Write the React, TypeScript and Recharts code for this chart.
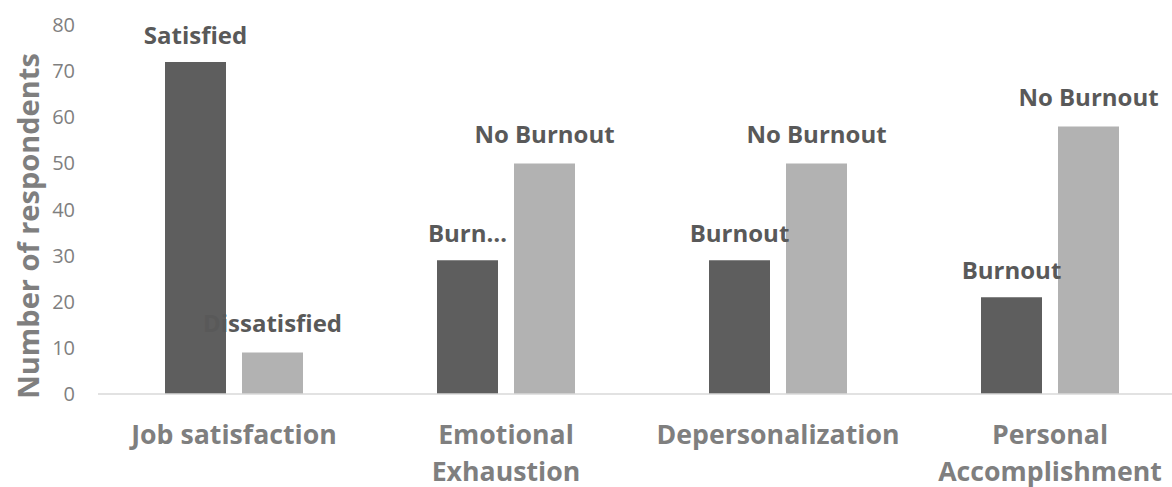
import React from 'react';
import { Bar, BarChart, LabelList, XAxis, YAxis } from 'recharts';

const categories = ['Job satisfaction', 'Emotional\nExhaustion', 'Depersonalization', 'Personal\nAccomplishment'];
const firstValues = [72, 29, 29, 21];
const secondValues = [9, 50, 50, 58];
const firstLabels = ['Satisfied', 'Burn…', 'Burnout', 'Burnout'];
const secondLabels = ['Dissatisfied', 'No Burnout', 'No Burnout', 'No Burnout'];
const yTicks = [0, 10, 20, 30, 40, 50, 60, 70, 80];

const data = categories.map((name, i) => ({
  name,
  first: firstValues[i],
  second: secondValues[i],
  firstLabel: firstLabels[i],
  secondLabel: secondLabels[i],
}));

const FONT = '"Open Sans", sans-serif';

const CategoryTick = (props: any) => {
  const { x, y, payload } = props;
  const lines = String(payload.value).split('\n');
  return (
    <g>
      {lines.map((line, i) => (
        <text key={i} x={x} y={y + 42 + i * 37} textAnchor="middle" fill="#7f7f7f" fontSize={26.7} fontWeight={700} fontFamily={FONT}>
          {line}
        </text>
      ))}
    </g>
  );
};

const barLabel = (gap: number) => (props: any) => {
  const { x, y, width, value } = props;
  return (
    <text x={x + width / 2} y={y - gap} textAnchor="middle" fill="#595959" fontSize={24} fontWeight={700} fontFamily={FONT}>
      {value}
    </text>
  );
};

const YLabel = () => (
  <text x={39} y={226} transform="rotate(-90, 39, 226)" textAnchor="middle" fill="#7f7f7f" fontSize={29} fontWeight={700} fontFamily={FONT}>
    Number of respondents
  </text>
);

export default function App() {
  return (
    <div style={{ position: 'absolute', left: 0, top: 0, width: 1172, height: 487, overflow: 'hidden', background: '#fff' }}>
      <BarChart width={1200} height={487} data={data} margin={{ top: 25, right: 14, bottom: 0, left: 0 }} barCategoryGap={67} barGap={16}>
        <XAxis dataKey="name" axisLine={{ stroke: '#d9d9d9', strokeWidth: 1.5 }} tickLine={false} height={93} tick={<CategoryTick />} interval={0} />
        <YAxis
          width={98}
          domain={[0, 80]}
          ticks={yTicks}
          axisLine={false}
          tickLine={false}
          tickSize={0}
          tickMargin={23}
          tick={{ fill: '#7f7f7f', fontSize: 20, fontFamily: FONT }}
          label={<YLabel />}
        />
        <Bar dataKey="first" fill="#5e5e5e" isAnimationActive={false}>
          <LabelList dataKey="firstLabel" content={barLabel(18)} />
        </Bar>
        <Bar dataKey="second" fill="#b2b2b2" isAnimationActive={false}>
          <LabelList dataKey="secondLabel" content={barLabel(20)} />
        </Bar>
      </BarChart>
    </div>
  );
}
